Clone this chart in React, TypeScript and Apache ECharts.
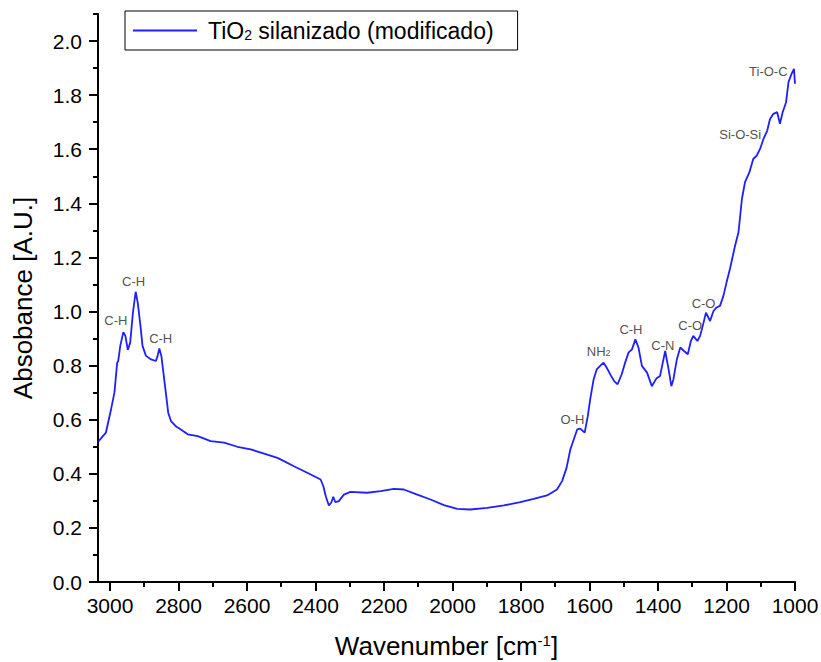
import React, { useEffect, useRef } from "react";
import * as echarts from "echarts";

// FTIR spectrum of silanized TiO2: wavenumber (cm-1) and absorbance (A.U.)
const wavenumbers = [
  3033, 3012, 2997, 2987, 2979, 2976, 2970, 2961, 2955, 2948, 2941, 2933, 2925, 2919, 2911, 2905,
  2895, 2880, 2866, 2861, 2856, 2850, 2844, 2837, 2830, 2822, 2808, 2793, 2773, 2744, 2706, 2667,
  2628, 2589, 2550, 2511, 2492, 2463, 2424, 2385, 2377, 2370, 2361, 2354, 2348, 2342, 2332, 2317,
  2298, 2249, 2210, 2171, 2142, 2103, 2064, 2025, 1986, 1948, 1899, 1850, 1802, 1763, 1724, 1695,
  1680, 1667, 1656, 1646, 1636, 1627, 1614, 1605, 1598, 1588, 1579, 1569, 1559, 1550, 1537, 1528,
  1518, 1506, 1496, 1486, 1476, 1466, 1457, 1447, 1432, 1418, 1405, 1394, 1379, 1369, 1361, 1355,
  1345, 1335, 1324, 1313, 1304, 1297, 1285, 1277, 1267, 1260, 1248, 1238, 1229, 1219, 1209, 1200,
  1190, 1175, 1165, 1160, 1155, 1146, 1133, 1122, 1112, 1102, 1092, 1081, 1073, 1063, 1052, 1044,
  1036, 1026, 1019, 1010, 1003, 1000,
];

const absorbance = [
  0.521, 0.552, 0.638, 0.7, 0.811, 0.817, 0.873, 0.924, 0.91, 0.858, 0.885, 0.996, 1.073, 1.033, 0.947, 0.873,
  0.836, 0.823, 0.817, 0.836, 0.863, 0.836, 0.774, 0.7, 0.626, 0.595, 0.576, 0.564, 0.546, 0.539, 0.521, 0.515,
  0.5, 0.49, 0.475, 0.459, 0.447, 0.428, 0.404, 0.379, 0.354, 0.317, 0.283, 0.293, 0.315, 0.295, 0.299, 0.323,
  0.333, 0.33, 0.336, 0.344, 0.342, 0.323, 0.305, 0.284, 0.27, 0.268, 0.274, 0.283, 0.295, 0.307, 0.32, 0.342,
  0.373, 0.422, 0.49, 0.527, 0.564, 0.567, 0.552, 0.613, 0.675, 0.749, 0.786, 0.799, 0.811, 0.793, 0.762, 0.743,
  0.731, 0.768, 0.811, 0.848, 0.86, 0.897, 0.867, 0.799, 0.774, 0.724, 0.752, 0.762, 0.854, 0.786, 0.724, 0.749,
  0.823, 0.867, 0.854, 0.842, 0.891, 0.91, 0.891, 0.91, 0.959, 0.996, 0.965, 1.002, 1.015, 1.021, 1.058, 1.107,
  1.157, 1.243, 1.293, 1.354, 1.416, 1.478, 1.515, 1.564, 1.576, 1.601, 1.638, 1.669, 1.712, 1.731, 1.737, 1.694,
  1.737, 1.774, 1.848, 1.879, 1.897, 1.842,
];

// Band assignments: label anchor (wavenumber, absorbance) and text
const bandWavenumbers = [2983, 2931, 2852, 1650, 1573, 1479, 1386, 1306, 1267, 1160, 1078];
const bandAbsorbance = [0.965, 1.11, 0.9, 0.601, 0.854, 0.932, 0.876, 0.949, 1.031, 1.653, 1.887];
const bandLabels = ["C-H", "C-H", "C-H", "O-H", "NH{sub|2}", "C-H", "C-N", "C-O", "C-O", "Si-O-Si", "Ti-O-C"];

// Axis ticks
const xMajorTicks = [1000, 1200, 1400, 1600, 1800, 2000, 2200, 2400, 2600, 2800, 3000];
const xMinorTicks = [1100, 1300, 1500, 1700, 1900, 2100, 2300, 2500, 2700, 2900];
const yMajorTicks = [0, 0.2, 0.4, 0.6, 0.8, 1.0, 1.2, 1.4, 1.6, 1.8, 2.0];
const yMinorTicks = [0.1, 0.3, 0.5, 0.7, 0.9, 1.1, 1.3, 1.5, 1.7, 1.9, 2.1];

const seriesName = "TiO2 silanizado (modificado)";
const FONT = '"Liberation Sans", Arial, Helvetica, sans-serif';
const LINE_BLUE = "#1f1fff";

export default function App() {
  const ref = useRef<HTMLDivElement>(null);

  useEffect(() => {
    if (!ref.current) return;
    const chart = echarts.init(ref.current, null, { renderer: "svg" });

    const spectrum = wavenumbers.map((w, i) => [w, absorbance[i]]);
    const bands = bandWavenumbers.map((w, i) => ({
      value: [w, bandAbsorbance[i]],
      name: bandLabels[i],
    }));

    const axisLineStyle = { color: "#000", width: 2 };

    chart.setOption({
      animation: false,
      backgroundColor: "#fff",
      textStyle: { fontFamily: FONT },
      grid: { left: 98, right: 26, top: 14, bottom: 80, outerBoundsMode: "none" },
      legend: {
        left: 125,
        top: 11,
        data: [{ name: seriesName, icon: "rect" }],
        itemWidth: 64,
        itemHeight: 2,
        itemGap: 10,
        padding: [8, 24, 8, 8],
        borderColor: "#000",
        borderWidth: 1,
        formatter: () => "TiO{sub|2} silanizado (modificado)",
        textStyle: {
          fontFamily: FONT,
          fontSize: 23,
          color: "#000",
          padding: [0, 0, 0, 6],
          rich: {
            sub: { fontFamily: FONT, fontSize: 14, verticalAlign: "bottom", color: "#000" },
          },
        },
      },
      xAxis: [
        {
          type: "value",
          inverse: true,
          min: 1000,
          max: 3035,
          position: "bottom",
          axisLine: { show: true, lineStyle: axisLineStyle },
          axisTick: { show: true, length: 9, lineStyle: axisLineStyle, customValues: xMajorTicks },
          axisLabel: {
            customValues: xMajorTicks,
            formatter: (v: number) => String(v),
            fontFamily: FONT,
            fontSize: 21,
            color: "#000",
            margin: 13,
          },
          splitLine: { show: false },
          name: "Wavenumber [cm{sup|-1}]",
          nameLocation: "middle",
          nameGap: 51,
          nameTextStyle: {
            fontFamily: FONT,
            fontSize: 26,
            color: "#000",
            rich: { sup: { fontFamily: FONT, fontSize: 15, verticalAlign: "top", color: "#000" } },
          },
        },
        {
          type: "value",
          inverse: true,
          min: 1000,
          max: 3035,
          position: "bottom",
          axisLine: { show: false },
          axisTick: { show: true, length: 5, lineStyle: axisLineStyle, customValues: xMinorTicks },
          axisLabel: { show: false },
          splitLine: { show: false },
        },
      ],
      yAxis: [
        {
          type: "value",
          min: 0,
          max: 2.1,
          position: "left",
          axisLine: { show: true, lineStyle: axisLineStyle },
          axisTick: { show: true, length: 9, lineStyle: axisLineStyle, customValues: yMajorTicks },
          axisLabel: {
            customValues: yMajorTicks,
            formatter: (v: number) => v.toFixed(1),
            fontFamily: FONT,
            fontSize: 21,
            color: "#000",
            margin: 16,
          },
          splitLine: { show: false },
          name: "Absobance [A.U.]",
          nameLocation: "middle",
          nameGap: 62,
          nameTextStyle: { fontFamily: FONT, fontSize: 26, color: "#000" },
        },
        {
          type: "value",
          min: 0,
          max: 2.1,
          position: "left",
          axisLine: { show: false },
          axisTick: { show: true, length: 5, lineStyle: axisLineStyle, customValues: yMinorTicks },
          axisLabel: { show: false },
          splitLine: { show: false },
        },
      ],
      series: [
        {
          name: seriesName,
          type: "line",
          xAxisIndex: 0,
          yAxisIndex: 0,
          data: spectrum,
          symbol: "none",
          showSymbol: false,
          color: LINE_BLUE,
          lineStyle: { color: LINE_BLUE, width: 1.8 },
          silent: true,
        },
        {
          name: "bands",
          type: "scatter",
          xAxisIndex: 0,
          yAxisIndex: 0,
          data: bands,
          symbolSize: 0,
          silent: true,
          label: {
            show: true,
            position: "inside",
            formatter: (p: any) => p.name,
            fontFamily: FONT,
            fontSize: 13,
            color: "#222",
            rich: { sub: { fontFamily: FONT, fontSize: 9, verticalAlign: "bottom", color: "#222" } },
          },
        },
      ],
    });

    return () => chart.dispose();
  }, []);

  return (
    <div
      ref={ref}
      style={{ position: "fixed", left: 0, top: 0, width: 821, height: 662, background: "#fff" }}
    />
  );
}
